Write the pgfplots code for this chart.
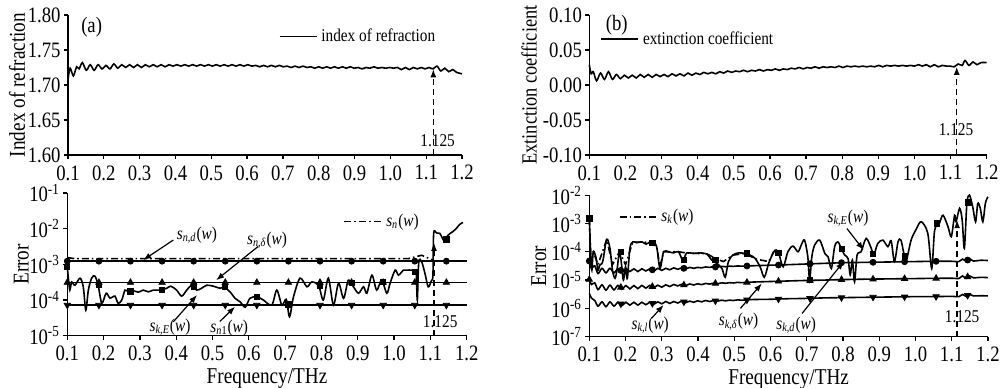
\documentclass[border=0pt]{standalone}
\usepackage{fontspec}
\setmainfont{Liberation Serif}[FakeStretch=0.85]
\usepackage{pgfplots}
\pgfplotsset{compat=1.18}
\usetikzlibrary{arrows.meta}
\newcommand{\tickfont}{\fontsize{11}{12}\selectfont}
\newcommand{\labfont}{\fontsize{11.3}{12}\selectfont}
\newcommand{\annfont}{\fontsize{9}{10}\selectfont}
\newcommand{\sw}[1]{\textit{s}\textsubscript{#1}(\textit{w})}
\tikzset{
  arr/.style={-{Latex[length=4pt,width=3pt]}, line width=0.6pt},
  dsh/.style={densely dashed, line width=0.7pt, -{Latex[length=4pt,width=3pt]}},
}
\pgfplotsset{
  base/.style={
    scale only axis, anchor=south west,
    axis x line=bottom, axis y line=left,
    axis line style={-, line width=0.75pt},
    tick align=outside, major tick length=2pt,
    every tick/.style={black, line width=0.6pt},
    xmin=0.1, xmax=1.2,
    xtick={0.1,0.2,0.3,0.4,0.5,0.6,0.7,0.8,0.9,1.0,1.1,1.2},
    /pgf/number format/assume math mode=true,
    xticklabel style={inner sep=3pt, /pgf/number format/.cd, fixed, fixed zerofill, precision=1},
    yticklabel style={inner xsep=1.5pt},
    tick label style={font=\tickfont},
    label style={font=\labfont},
    xlabel shift=-3pt,
    scaled ticks=false,
    clip=false,
    legend style={draw=none, fill=none, font=\annfont, anchor=west, inner sep=0pt},
    legend image code/.code={\draw[#1] (0pt,0pt) -- (18.5pt,0pt);},
  },
  cur/.style={black, line width=0.8pt, smooth},
  dd/.style={black, line width=0.8pt, dash pattern=on 3.5pt off 1.5pt on 0.8pt off 1.5pt},
  hl/.style={black, line width=0.8pt},
  mk/.style={only marks, black, mark size=1.5pt},
}
\begin{document}
\begin{tikzpicture}
\path[use as bounding box] (0,0) rectangle (500pt,193.5pt);

% ---------------- (a) top
\begin{axis}[base, at={(34pt,116pt)}, width=197pt, height=70pt,
  ymin=1.6, ymax=1.8, ytick={1.60,1.65,1.70,1.75,1.80},
  yticklabel style={/pgf/number format/.cd, fixed, fixed zerofill, precision=2},
  ylabel={Index of refraction}, ylabel shift=-3.6pt,
  legend style={at={(0.534,0.845)}}]
\addplot[cur] coordinates {
(0.100,1.708)(0.106,1.724)(0.115,1.713)(0.124,1.726)(0.131,1.723)(0.140,1.732)
(0.151,1.721)(0.162,1.729)(0.173,1.721)(0.184,1.729)(0.195,1.723)(0.206,1.728)
(0.217,1.723)(0.228,1.730)(0.239,1.724)(0.250,1.729)(0.261,1.725)(0.272,1.729)
(0.283,1.725)(0.294,1.729)(0.305,1.725)(0.316,1.729)(0.327,1.726)(0.338,1.729)
(0.349,1.726)(0.360,1.729)(0.371,1.726)(0.382,1.729)(0.393,1.727)(0.404,1.729)
(0.415,1.727)(0.426,1.729)(0.437,1.727)(0.448,1.729)(0.459,1.727)(0.470,1.729)
(0.481,1.727)(0.492,1.729)(0.503,1.727)(0.514,1.729)(0.525,1.727)(0.536,1.729)
(0.547,1.727)(0.558,1.729)(0.569,1.727)(0.580,1.729)(0.591,1.727)(0.602,1.729)
(0.613,1.727)(0.624,1.728)(0.635,1.726)(0.646,1.728)(0.657,1.726)(0.668,1.728)
(0.679,1.726)(0.690,1.728)(0.701,1.726)(0.712,1.727)(0.723,1.725)(0.734,1.727)
(0.745,1.725)(0.756,1.727)(0.767,1.725)(0.778,1.726)(0.789,1.724)(0.800,1.726)
(0.811,1.724)(0.822,1.726)(0.833,1.724)(0.844,1.726)(0.855,1.724)(0.866,1.726)
(0.877,1.724)(0.888,1.726)(0.899,1.724)(0.910,1.725)(0.921,1.723)(0.932,1.725)
(0.943,1.724)(0.954,1.726)(0.965,1.724)(0.976,1.725)(0.987,1.724)(0.998,1.725)
(1.009,1.724)(1.020,1.725)(1.031,1.722)(1.042,1.725)(1.053,1.722)(1.064,1.725)
(1.075,1.723)(1.086,1.725)(1.097,1.723)(1.108,1.725)(1.119,1.723)(1.130,1.727)
(1.141,1.720)(1.152,1.724)(1.163,1.719)(1.174,1.722)(1.185,1.718)(1.200,1.716)};
\addlegendentry{index of refraction}
\draw[dsh] (axis cs:1.12,1.6) -- (axis cs:1.12,1.7225);
\node[font=\annfont] at (axis cs:1.132,1.62) {1.125};
\node[font=\tickfont] at (axis cs:0.166,1.782) {(a)};
\end{axis}

% ---------------- (b) top
\begin{axis}[base, at={(294.65pt,116pt)}, width=198.7pt, height=70pt,
  ymin=-0.1, ymax=0.1, ytick={-0.10,-0.05,0,0.05,0.10},
  yticklabel style={/pgf/number format/.cd, fixed, fixed zerofill, precision=2},
  ylabel={Extinction coefficient}, ylabel shift=-2pt,
  ylabel style={font=\fontsize{10.8}{12}\selectfont},
  legend style={at={(0.027,0.827)}}]
\addplot[cur] coordinates {
(0.100,0.029)(0.105,0.016)(0.111,0.019)(0.120,0.006)(0.131,0.017)(0.142,0.008)
(0.153,0.019)(0.164,0.008)(0.175,0.015)(0.186,0.009)(0.197,0.014)(0.208,0.010)
(0.219,0.014)(0.230,0.010)(0.241,0.015)(0.252,0.011)(0.263,0.015)(0.274,0.011)
(0.285,0.015)(0.296,0.012)(0.307,0.015)(0.318,0.012)(0.329,0.016)(0.340,0.013)
(0.351,0.016)(0.362,0.013)(0.373,0.017)(0.384,0.014)(0.395,0.017)(0.406,0.015)
(0.417,0.018)(0.428,0.016)(0.439,0.018)(0.450,0.016)(0.461,0.019)(0.472,0.017)
(0.483,0.020)(0.494,0.018)(0.505,0.020)(0.516,0.019)(0.527,0.021)(0.538,0.019)
(0.549,0.021)(0.560,0.020)(0.571,0.022)(0.582,0.020)(0.593,0.022)(0.604,0.021)
(0.615,0.023)(0.626,0.021)(0.637,0.023)(0.648,0.022)(0.659,0.024)(0.670,0.023)
(0.681,0.025)(0.692,0.023)(0.703,0.025)(0.714,0.024)(0.725,0.026)(0.736,0.024)
(0.747,0.026)(0.758,0.025)(0.769,0.026)(0.780,0.025)(0.791,0.027)(0.802,0.025)
(0.813,0.027)(0.824,0.026)(0.835,0.027)(0.846,0.026)(0.857,0.027)(0.868,0.026)
(0.879,0.027)(0.890,0.026)(0.901,0.028)(0.912,0.026)(0.923,0.028)(0.934,0.027)
(0.945,0.028)(0.956,0.027)(0.967,0.028)(0.978,0.027)(0.989,0.028)(1.000,0.027)
(1.011,0.029)(1.022,0.027)(1.033,0.029)(1.044,0.026)(1.055,0.029)(1.066,0.026)
(1.077,0.028)(1.088,0.027)(1.099,0.027)(1.110,0.026)(1.121,0.030)(1.132,0.028)
(1.140,0.035)(1.151,0.028)(1.162,0.033)(1.173,0.029)(1.184,0.032)(1.200,0.032)};
\addlegendentry{extinction coefficient}
\draw[dsh] (axis cs:1.117,-0.1) -- (axis cs:1.117,0.026);
\node[font=\annfont] at (axis cs:1.115,-0.064) {1.125};
\node[font=\tickfont] at (axis cs:0.176,0.0857) {(b)};
\end{axis}

% ---------------- (a) bottom
\begin{axis}[base, ymode=log, yminorticks=false, at={(33.65pt,25.65pt)}, width=199.7pt, height=71.35pt,
  ymin=1e-5, ymax=1e-1, ytick={1e-5,1e-4,1e-3,1e-2,1e-1},
  yticklabels={10\textsuperscript{-5},10\textsuperscript{-4},10\textsuperscript{-3},10\textsuperscript{-2},10\textsuperscript{-1}},
  xlabel={Frequency/THz}, ylabel={Error}, ylabel shift=-4.8pt,
  legend style={at={(0.691,0.8)}}]
\addplot[dd] coordinates {(0.100,1.55e-3)(0.120,1.45e-3)(1.040,1.45e-3)(1.076,1.8e-3)(1.108,1.3e-3)};
\addlegendentry{\sw{\textit{n}}}
% s_n,d circles
\addplot[hl] coordinates {(0.1,1.23e-3)(1.2,1.23e-3)};
\addplot[mk, mark=*] coordinates {(0.1,1.23e-3)(0.187,1.23e-3)(0.274,1.23e-3)(0.361,1.23e-3)(0.448,1.23e-3)(0.535,1.23e-3)(0.622,1.23e-3)(0.709,1.23e-3)(0.796,1.23e-3)(0.883,1.23e-3)(0.970,1.23e-3)(1.057,1.23e-3)(1.144,1.23e-3)};
% s_n,delta triangles
\addplot[hl] coordinates {(0.1,3.1e-4)(1.2,3.1e-4)};
\addplot[mk, mark=triangle*, mark size=1.8pt] coordinates {(0.1,3.1e-4)(0.187,3.1e-4)(0.274,3.1e-4)(0.361,3.1e-4)(0.448,3.1e-4)(0.535,3.1e-4)(0.622,3.1e-4)(0.709,3.1e-4)(0.796,3.1e-4)(0.883,3.1e-4)(0.970,3.1e-4)(1.057,3.1e-4)(1.144,3.1e-4)};
% s_n1 down triangles
\addplot[hl] coordinates {(0.1,7.2e-5)(1.2,7.2e-5)};
\addplot[mk, mark=triangle*, mark size=1.8pt, mark options={rotate=180}] coordinates {(0.1,7.2e-5)(0.187,7.2e-5)(0.274,7.2e-5)(0.361,7.2e-5)(0.448,7.2e-5)(0.535,7.2e-5)(0.622,7.2e-5)(0.709,7.2e-5)(0.796,7.2e-5)(0.883,7.2e-5)(0.970,7.2e-5)(1.057,7.2e-5)(1.144,7.2e-5)};
% s_n,E squares
\addplot[cur, tension=0.5] coordinates {
(0.100,8.5e-4)(0.103,4.1e-4)(0.107,1.9e-4)(0.112,3.2e-4)(0.121,2.6e-4)(0.135,4.1e-4)(0.144,2.35e-4)(0.151,5.2e-5)(0.158,1.9e-4)(0.167,4.1e-4)(0.176,4.7e-4)(0.185,2.6e-4)(0.195,8.1e-5)(0.207,1.55e-4)(0.218,1.12e-4)(0.231,1.29e-4)(0.240,8.1e-5)(0.250,1.0e-4)(0.259,1.9e-4)(0.268,1.7e-4)(0.282,1.82e-4)(0.296,1.66e-4)(0.309,1.9e-4)(0.323,1.7e-4)(0.337,1.9e-4)(0.355,1.9e-4)(0.374,2.14e-4)(0.385,2.45e-4)(0.401,1.9e-4)(0.415,1.29e-4)(0.429,1.9e-4)(0.443,2.6e-4)(0.456,1.9e-4)(0.470,2.14e-4)(0.484,2.6e-4)(0.502,2.45e-4)(0.521,2.14e-4)(0.532,2.3e-4)(0.548,1.7e-4)(0.562,1.12e-4)(0.576,8.9e-5)(0.590,6.3e-5)(0.603,1.12e-4)(0.622,1.23e-4)(0.640,1.0e-4)(0.663,7.2e-5)(0.677,1.9e-4)(0.691,7.2e-5)(0.703,1.05e-4)(0.712,3.4e-5)(0.723,1.23e-4)(0.741,4.1e-4)(0.760,2.35e-4)(0.773,3.2e-4)(0.792,2.6e-4)(0.805,1.0e-4)(0.819,4.1e-4)(0.833,7.2e-5)(0.847,2.95e-4)(0.861,1.12e-4)(0.874,3.6e-4)(0.888,2.35e-4)(0.902,1.55e-4)(0.916,2.35e-4)(0.925,1.55e-4)(0.939,5.0e-4)(0.952,1.9e-4)(0.966,3.6e-4)(0.980,1.55e-4)(0.989,2.95e-4)(1.003,6.9e-4)(1.012,5.0e-4)(1.026,6.9e-4)(1.035,6.9e-4)(1.048,6.9e-4)(1.057,6.3e-4)(1.061,5.6e-4)(1.064,1.0e-4)(1.068,1.17e-3)(1.076,1.17e-3)(1.085,5.6e-4)(1.094,2.35e-4)(1.103,3.55e-4)(1.107,5e-4)(1.109,7.4e-3)(1.117,7.6e-3)(1.126,7.4e-3)(1.133,5.4e-3)(1.140,4.4e-3)(1.148,6.5e-3)(1.162,8.3e-3)(1.171,1.0e-2)(1.180,1.3e-2)(1.190,1.5e-2)};
\addplot[mk, mark=square*, mark size=1.3pt] coordinates {(0.1,8.5e-4)(0.187,2.6e-4)(0.274,1.75e-4)(0.361,1.9e-4)(0.448,2.4e-4)(0.535,2.3e-4)(0.622,1.23e-4)(0.709,7.5e-5)(0.796,2.5e-4)(0.883,3.0e-4)(0.970,3.3e-4)(1.057,6.3e-4)(1.144,5.0e-3)};
\draw[dsh] (axis cs:1.11,1e-5) -- (axis cs:1.11,4e-3);
\node[font=\annfont] at (axis cs:1.127,2.45e-5) {1.125};
\node[font=\annfont] at (axis cs:0.457,6.6e-3) {\sw{\textit{n},\textit{d}}};
\draw[arr] (axis cs:0.392,4.8e-3) -- (axis cs:0.309,1.32e-3);
\node[font=\annfont] at (axis cs:0.65,4.8e-3) {\sw{\textit{n},\textit{δ}}};
\draw[arr] (axis cs:0.626,3.2e-3) -- (axis cs:0.51,3.6e-4);
\node[font=\annfont] at (axis cs:0.383,1.74e-5) {\sw{\textit{k},\textit{E}}};
\draw[arr] (axis cs:0.392,2.45e-5) -- (axis cs:0.457,1.38e-4);
\node[font=\annfont] at (axis cs:0.546,1.66e-5) {\sw{\textit{n}1}};
\draw[arr] (axis cs:0.52,2.5e-5) -- (axis cs:0.562,6.5e-5);
\end{axis}

% ---------------- (b) bottom
\begin{axis}[base, ymode=log, yminorticks=false, at={(294.65pt,25.15pt)}, width=199.3pt, height=70.8pt,
  ymin=1e-7, ymax=1e-2, ytick={1e-7,1e-6,1e-5,1e-4,1e-3,1e-2},
  yticklabels={10\textsuperscript{-7},10\textsuperscript{-6},10\textsuperscript{-5},10\textsuperscript{-4},10\textsuperscript{-3},10\textsuperscript{-2}},
  xlabel={Frequency/THz}, ylabel={Error}, ylabel shift=-2.6pt,
  legend style={at={(0.073,0.846)}}]
\addplot[dd] coordinates {(0.100,1.5e-3)(0.104,8e-5)(0.111,1.0e-4)(0.124,3.5e-5)(0.148,2.7e-4)(0.164,3.5e-5)(0.183,1.0e-4)(0.200,3.5e-5)(0.220,2.2e-4)(0.268,2.2e-4)(0.286,1.5e-4)(0.295,3.0e-5)(0.305,1.0e-4)(0.346,1.0e-4)(0.369,9e-5)(0.424,8.5e-5)(0.452,5.5e-5)(0.470,4.5e-5)(0.496,7.6e-5)(0.530,8.7e-5)(0.560,5.5e-5)(0.595,4.5e-5)(0.609,1.0e-4)};
\addlegendentry{\sw{\textit{k}}}
% s_k,d circles
\addplot[cur] coordinates {
(0.100,4.7e-5)(0.106,2.6e-5)(0.115,3.2e-5)(0.124,1.7e-5)(0.135,2.6e-5)(0.146,1.8e-5)(0.157,2.6e-5)(0.168,1.8e-5)(0.179,2.5e-5)(0.190,1.9e-5)(0.201,2.5e-5)(0.212,2.0e-5)(0.223,2.5e-5)(0.234,2.0e-5)(0.245,2.5e-5)(0.256,2.1e-5)(0.267,2.5e-5)(0.278,2.1e-5)(0.289,2.6e-5)(0.300,2.2e-5)(0.311,2.6e-5)(0.322,2.3e-5)(0.333,2.7e-5)(0.344,2.4e-5)(0.355,2.7e-5)(0.366,2.5e-5)(0.377,2.8e-5)(0.388,2.6e-5)(0.399,2.8e-5)(0.410,2.7e-5)(0.421,2.9e-5)(0.432,2.8e-5)(0.443,3.0e-5)(0.454,2.9e-5)(0.465,3.05e-5)(0.476,2.95e-5)(0.487,3.1e-5)(0.498,3.05e-5)(0.509,3.15e-5)(0.520,3.1e-5)(0.55,3.2e-5)(0.60,3.35e-5)(0.65,3.5e-5)(0.70,3.7e-5)(0.75,3.9e-5)(0.80,4.1e-5)(0.85,4.2e-5)(0.90,4.3e-5)(0.95,4.4e-5)(1.00,4.5e-5)(1.05,4.6e-5)(1.10,4.6e-5)(1.12,4.5e-5)(1.13,5.5e-5)(1.14,4.6e-5)(1.15,5.6e-5)(1.16,4.7e-5)(1.18,5.0e-5)(1.20,4.9e-5)};
\addplot[mk, mark=*] coordinates {(0.1,4.7e-5)(0.187,2.2e-5)(0.274,2.3e-5)(0.361,2.6e-5)(0.448,2.9e-5)(0.535,3.15e-5)(0.622,3.4e-5)(0.709,3.75e-5)(0.796,4.1e-5)(0.883,4.25e-5)(0.970,4.45e-5)(1.057,4.6e-5)(1.144,5.1e-5)};
% s_k,delta triangles
\addplot[cur] coordinates {
(0.100,1.05e-5)(0.106,7.0e-6)(0.115,8.0e-6)(0.124,4.6e-6)(0.135,6.8e-6)(0.146,4.4e-6)(0.157,6.6e-6)(0.168,4.5e-6)(0.179,6.5e-6)(0.190,4.7e-6)(0.201,6.4e-6)(0.212,4.9e-6)(0.223,6.4e-6)(0.234,5.0e-6)(0.245,6.5e-6)(0.256,5.2e-6)(0.267,6.5e-6)(0.278,5.4e-6)(0.289,6.6e-6)(0.300,5.6e-6)(0.311,6.8e-6)(0.322,5.9e-6)(0.333,7.0e-6)(0.344,6.2e-6)(0.355,7.1e-6)(0.366,6.4e-6)(0.377,7.3e-6)(0.388,6.7e-6)(0.399,7.4e-6)(0.410,6.9e-6)(0.421,7.6e-6)(0.432,7.2e-6)(0.443,7.8e-6)(0.454,7.4e-6)(0.465,8.0e-6)(0.476,7.7e-6)(0.487,8.1e-6)(0.498,7.9e-6)(0.509,8.3e-6)(0.520,8.1e-6)(0.55,8.5e-6)(0.60,8.9e-6)(0.65,9.3e-6)(0.70,9.7e-6)(0.75,1.0e-5)(0.80,1.04e-5)(0.85,1.07e-5)(0.90,1.09e-5)(0.95,1.11e-5)(1.00,1.13e-5)(1.05,1.15e-5)(1.10,1.16e-5)(1.12,1.14e-5)(1.13,1.4e-5)(1.14,1.15e-5)(1.15,1.4e-5)(1.16,1.2e-5)(1.18,1.25e-5)(1.20,1.22e-5)};
\addplot[mk, mark=triangle*, mark size=1.8pt] coordinates {(0.1,1.05e-5)(0.187,5.5e-6)(0.274,5.9e-6)(0.361,6.7e-6)(0.448,7.6e-6)(0.535,8.3e-6)(0.622,9.1e-6)(0.709,9.8e-6)(0.796,1.04e-5)(0.883,1.08e-5)(0.970,1.12e-5)(1.057,1.15e-5)(1.144,1.3e-5)};
% s_k,l down triangles
\addplot[cur] coordinates {
(0.100,3.4e-6)(0.106,2.3e-6)(0.115,1.9e-6)(0.124,1.2e-6)(0.135,1.7e-6)(0.146,1.15e-6)(0.157,1.7e-6)(0.168,1.2e-6)(0.179,1.65e-6)(0.190,1.25e-6)(0.201,1.65e-6)(0.212,1.3e-6)(0.223,1.65e-6)(0.234,1.3e-6)(0.245,1.65e-6)(0.256,1.35e-6)(0.267,1.65e-6)(0.278,1.4e-6)(0.289,1.7e-6)(0.300,1.45e-6)(0.311,1.75e-6)(0.322,1.5e-6)(0.333,1.75e-6)(0.344,1.55e-6)(0.355,1.8e-6)(0.366,1.6e-6)(0.377,1.8e-6)(0.388,1.65e-6)(0.399,1.85e-6)(0.410,1.7e-6)(0.421,1.9e-6)(0.432,1.75e-6)(0.443,1.9e-6)(0.454,1.8e-6)(0.465,1.95e-6)(0.476,1.85e-6)(0.487,1.95e-6)(0.498,1.9e-6)(0.509,2.0e-6)(0.520,1.95e-6)(0.55,2.05e-6)(0.60,2.1e-6)(0.65,2.2e-6)(0.70,2.25e-6)(0.75,2.35e-6)(0.80,2.4e-6)(0.85,2.45e-6)(0.90,2.5e-6)(0.95,2.55e-6)(1.00,2.6e-6)(1.05,2.62e-6)(1.10,2.65e-6)(1.12,2.6e-6)(1.13,3.1e-6)(1.14,2.65e-6)(1.15,3.1e-6)(1.16,2.75e-6)(1.18,2.8e-6)(1.20,2.75e-6)};
\addplot[mk, mark=triangle*, mark size=1.8pt, mark options={rotate=180}] coordinates {(0.187,1.45e-6)(0.274,1.5e-6)(0.361,1.7e-6)(0.448,1.85e-6)(0.535,2.0e-6)(0.622,2.15e-6)(0.709,2.25e-6)(0.796,2.4e-6)(0.883,2.5e-6)(0.970,2.55e-6)(1.057,2.62e-6)(1.144,2.9e-6)};
% s_k,E squares
\addplot[cur, tension=0.5] coordinates {
(0.100,1.5e-3)(0.104,6.6e-5)(0.107,2.24e-5)(0.111,1.0e-4)(0.118,6.6e-5)(0.124,2.24e-5)(0.129,3.4e-5)(0.137,4.5e-5)(0.148,2.75e-4)(0.157,1.32e-4)(0.164,2.24e-5)(0.171,1.15e-5)(0.177,2.57e-5)(0.183,1.0e-4)(0.188,4.5e-5)(0.194,1.0e-5)(0.200,2.95e-5)(0.205,1.15e-5)(0.212,1.32e-4)(0.220,2.24e-4)(0.231,2.09e-4)(0.245,2.24e-4)(0.257,1.86e-4)(0.268,2.24e-4)(0.277,2.09e-4)(0.286,1.48e-4)(0.295,2.57e-5)(0.305,1.0e-4)(0.318,1.0e-4)(0.332,9.1e-5)(0.346,1.0e-4)(0.358,5.1e-5)(0.369,9.1e-5)(0.387,8.7e-5)(0.406,9.1e-5)(0.424,8.3e-5)(0.438,5.1e-5)(0.452,3.9e-5)(0.466,2.57e-5)(0.475,1.26e-5)(0.484,4.5e-5)(0.496,7.6e-5)(0.512,9.1e-5)(0.530,8.7e-5)(0.544,7.6e-5)(0.558,5.75e-5)(0.572,2.8e-5)(0.583,1.26e-5)(0.595,3.9e-5)(0.609,1.0e-4)(0.616,1.15e-4)(0.623,8.7e-5)(0.635,2.95e-5)(0.648,1.0e-4)(0.662,1.58e-4)(0.676,1.0e-4)(0.685,1.74e-4)(0.694,2.57e-4)(0.703,6.6e-5)(0.708,9.5e-6)(0.714,6.6e-5)(0.722,1.74e-4)(0.736,2.57e-4)(0.750,8.7e-5)(0.759,6.6e-5)(0.768,2.57e-5)(0.777,1.51e-4)(0.786,2.24e-4)(0.795,1.32e-4)(0.805,7.6e-5)(0.814,5.75e-5)(0.820,1.51e-5)(0.826,5.1e-5)(0.832,8.7e-6)(0.839,7.6e-5)(0.850,1.0e-4)(0.864,2.95e-4)(0.878,1.32e-4)(0.885,7.6e-5)(0.896,1.95e-4)(0.910,2.57e-4)(0.924,1.51e-4)(0.933,2.45e-4)(0.942,4.5e-5)(0.952,2.24e-4)(0.960,2.57e-4)(0.970,6.6e-5)(0.975,4.8e-5)(0.988,2.57e-4)(1.002,6.2e-4)(1.016,1.15e-3)(1.034,4.5e-4)(1.045,2.57e-5)(1.053,5.75e-4)(1.066,1.0e-3)(1.076,1.95e-3)(1.090,7.6e-4)(1.099,3.4e-4)(1.108,1.95e-3)(1.112,1.15e-3)(1.122,3.4e-3)(1.129,1.32e-3)(1.135,1.32e-4)(1.142,5.1e-3)(1.149,1.0e-2)(1.158,3.9e-3)(1.166,1.15e-3)(1.172,5.1e-3)(1.179,3.4e-3)(1.186,1.15e-3)(1.193,5.1e-3)(1.200,8.7e-3)};
\addplot[mk, mark=square*, mark size=1.3pt] coordinates {(0.1,1.5e-3)(0.187,1.0e-4)(0.274,2.1e-4)(0.361,5.1e-5)(0.448,5.0e-5)(0.535,8.7e-5)(0.622,9.0e-5)(0.709,1.0e-5)(0.796,1.3e-4)(0.883,8.5e-5)(0.970,7.0e-5)(1.060,1.0e-3)(1.146,5.5e-3)};
\draw[dsh] (axis cs:1.115,1e-7) -- (axis cs:1.115,1.3e-3);
\node[font=\annfont] at (axis cs:1.129,5.0e-7) {1.125};
\node[font=\annfont] at (axis cs:0.814,1.51e-3) {\sw{\textit{k},\textit{E}}};
\draw[arr] (axis cs:0.811,6.6e-4) -- (axis cs:0.857,1.15e-4);
\node[font=\annfont] at (axis cs:0.268,2.57e-7) {\sw{\textit{k},\textit{l}}};
\draw[arr] (axis cs:0.272,4.5e-7) -- (axis cs:0.305,1.32e-6);
\node[font=\annfont] at (axis cs:0.512,3.4e-7) {\sw{\textit{k},\textit{δ}}};
\draw[arr] (axis cs:0.517,1.0e-6) -- (axis cs:0.576,7.6e-6);
\node[font=\annfont] at (axis cs:0.671,2.57e-7) {\sw{\textit{k},\textit{d}}};
\draw[arr] (axis cs:0.687,6.6e-7) -- (axis cs:0.802,4.5e-5);
\end{axis}
\end{tikzpicture}
\end{document}
